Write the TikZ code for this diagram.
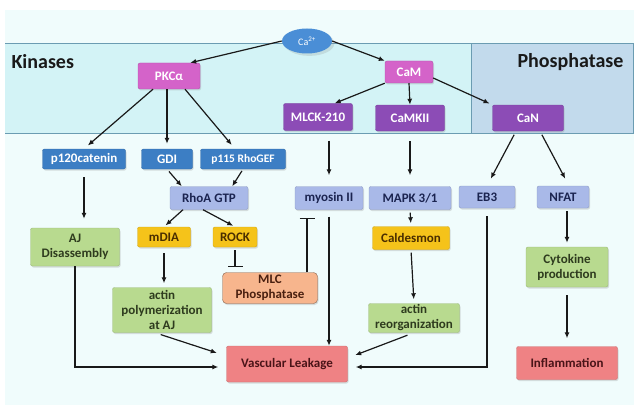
\documentclass[tikz,border=0pt]{standalone}
\usepackage{fontspec}
\setmainfont{Carlito}
\usetikzlibrary{shapes.geometric, arrows, arrows.meta, shadows}
\definecolor{bgcyan}{HTML}{F0FCFC}
\definecolor{bandcyan}{HTML}{D3F3F6}
\definecolor{phosbox}{HTML}{C2DAEC}
\definecolor{bandline}{HTML}{6B9CB2}
\definecolor{caBlue}{HTML}{4A8ED6}
\definecolor{pkcPink}{HTML}{D463C9}
\definecolor{kinPurple}{HTML}{8C4CB6}
\definecolor{effBlue}{HTML}{3C7EC4}
\definecolor{paleBlue}{HTML}{A9B9E8}
\definecolor{leafGreen}{HTML}{B8DA8F}
\definecolor{goldY}{HTML}{F5C31A}
\definecolor{salmon}{HTML}{F7B58D}
\definecolor{leakRed}{HTML}{EF8284}
\definecolor{navyText}{HTML}{1B2450}
\definecolor{greenText}{HTML}{2E3B1E}
\definecolor{goldText}{HTML}{4A2E00}
\definecolor{brownText}{HTML}{4A2010}
\definecolor{redText}{HTML}{4A1418}
\tikzset{
  block/.style={
    rectangle,
    rounded corners=2pt,
    draw=#1!85!black,
    fill=#1,
    line width=0.4pt,
    align=center,
    inner sep=1pt,
    minimum height=21pt,
    font=\bfseries\fontsize{13}{15}\selectfont,
    drop shadow={opacity=0.25, shadow xshift=1pt, shadow yshift=-1.5pt}
  },
  pinkbox/.style={block=pkcPink, text=white},
  purplebox/.style={block=kinPurple, text=white},
  bluebox/.style={block=effBlue, text=white},
  palebox/.style={block=paleBlue, text=navyText},
  greenbox/.style={block=leafGreen, text=greenText},
  goldbox/.style={block=goldY, text=goldText},
  salmonbox/.style={block=salmon, text=brownText, draw=salmon!55!black, rounded corners=4pt},
  redbox/.style={block=leakRed, text=redText},
  region/.style={font=\bfseries\fontsize{20}{24}\selectfont, text=black!90}
}
\tikzstyle{arrow} = [->, > = {Latex[length=6pt, width=5pt]}, line width=1.2pt, black!90]
\tikzstyle{inhibit} = [-{Bar[width=15pt]}, line width=1.2pt, black!90]
\def\ion{Ca\textsuperscript{2+}}

\begin{document}
\begin{tikzpicture}[x=1pt, y=-1pt]
    \useasboundingbox (0,0) rectangle (644,417);
    % background and the two bands
    \fill[bgcyan] (5,10) rectangle (634,405);
    \fill[bandcyan] (5,43) rectangle (471,133);
    \draw[bandline] (5,43) -- (471,43);
    \draw[bandline] (5,133) -- (471,133);
    \filldraw[fill=phosbox, draw=bandline] (471,43) rectangle (633,133);
    \node[region, anchor=west] (kin) at (8,62) {Kinases};
    \node[region, anchor=east] (phos) at (627,62) {Phosphatase};

    \node[ellipse, fill=caBlue, text=white, minimum width=50pt, minimum height=25pt, inner sep=0pt,
      font=\fontsize{10}{11}\selectfont, drop shadow={opacity=0.2}] (ca) at (307,41) {\ion};
    \node[pinkbox, minimum width=62pt, minimum height=26pt] (pkc) at (169,76) {PKCα};
    \node[pinkbox, minimum width=48pt, minimum height=22pt] (cam) at (409,72) {CaM};
    \node[purplebox, minimum width=69pt, minimum height=27pt] (mlck) at (318,117) {MLCK-210};
    \node[purplebox, minimum width=69pt, minimum height=26pt] (camk) at (410,118) {CaMKII};
    \node[purplebox, minimum width=71pt, minimum height=26pt] (can) at (528,118) {CaN};

    \node[bluebox, minimum width=83pt, minimum height=20pt] (p120) at (84,159) {p120catenin};
    \node[bluebox, minimum width=51pt, minimum height=20pt] (gdi) at (167,159) {GDI};
    \node[bluebox, minimum width=85pt, minimum height=20pt, font=\bfseries\fontsize{11.5}{13}\selectfont] (p115) at (243,159) {p115 RhoGEF};

    \node[palebox, minimum width=78pt, minimum height=23pt] (rhoa) at (209,198) {RhoA GTP};
    \node[palebox, minimum width=68pt, minimum height=23pt] (myosin) at (329,198) {myosin II};
    \node[palebox, minimum width=82pt, minimum height=23pt] (mapk) at (410,198) {MAPK 3/1};
    \node[palebox, minimum width=56pt, minimum height=22pt] (eb3) at (487,197) {EB3};
    \node[palebox, minimum width=52pt, minimum height=22pt] (nfat) at (563,197) {NFAT};

    \node[greenbox, minimum width=89pt, minimum height=38pt] (aj) at (75,247) {AJ\\Disassembly};
    \node[goldbox, minimum width=53pt, minimum height=20pt] (mdia) at (164,237) {mDIA};
    \node[goldbox, minimum width=44pt, minimum height=20pt] (rock) at (235,237) {ROCK};
    \node[goldbox, minimum width=77pt, minimum height=23pt] (cald) at (411,238) {Caldesmon};
    \node[salmonbox, minimum width=95pt, minimum height=31pt] (mlc) at (270,288) {MLC\\Phosphatase};
    \node[greenbox, minimum width=82pt, minimum height=40pt] (cyto) at (567,267) {Cytokine\\production};
    \node[greenbox, minimum width=99pt, minimum height=45pt] (actpol) at (162,310) {actin\\polymerization\\at AJ};
    \node[greenbox, minimum width=91pt, minimum height=29pt] (actreo) at (414,318) {actin\\reorganization};
    \node[redbox, minimum width=121pt, minimum height=36pt] (vasc) at (287,364) {Vascular Leakage};
    \node[redbox, minimum width=101pt, minimum height=33pt] (infl) at (567,363) {Inflammation};

    % calcium signalling
    \draw[arrow] (ca.west) to ([xshift=-10pt]pkc.north east);
    \draw[arrow] (ca.east) to (cam.north west);
    \draw[arrow, shorten >=5pt] ([xshift=-16pt]pkc.south) to (p120.north);
    \draw[arrow, shorten >=5pt] (pkc.south -| gdi.north) to (gdi.north);
    \draw[arrow, shorten >=5pt] ([xshift=16pt]pkc.south) to ([xshift=-8pt]p115.north);
    \draw[arrow] (cam.south west) to ([xshift=-18pt]mlck.north east);
    \draw[arrow] (cam.south) to (camk.north);
    \draw[arrow, shorten >=3pt] ([yshift=-6pt]cam.east) to (can.north west);
    \draw[arrow, shorten <=10pt, shorten >=11pt] (myosin.north |- mlck.south) to (myosin.north);
    \draw[arrow, shorten <=10pt, shorten >=11pt] (camk.south) to (mapk.north);
    \draw[arrow, shorten <=4pt, shorten >=8pt] ([xshift=-12pt]can.south) to (eb3.north);
    \draw[arrow, shorten <=4pt, shorten >=8pt] ([xshift=12pt]can.south) to ([xshift=6pt]nfat.north);

    % Rho pathway
    \draw[arrow, shorten <=8pt, shorten >=9pt] (p120.south) to (p120.south |- aj.north);
    \draw[arrow, shorten <=3pt] (gdi.south) to ([xshift=12pt]rhoa.north west);
    \draw[arrow, shorten <=2pt] (p115.south) to ([xshift=-16pt]rhoa.north east);
    \draw[arrow, shorten >=2pt] ([xshift=-26pt]rhoa.south) to (mdia.north);
    \draw[arrow, shorten >=2pt] ([xshift=-6pt]rhoa.south) to (rock.north);
    \draw[inhibit, shorten <=3pt, shorten >=5pt] (rock.south) to (rock.south |- mlc.north);
    \draw[inhibit, shorten >=8pt] ([xshift=37pt]mlc.north) to ([xshift=37pt]mlc.north |- myosin.south);
    \draw[arrow, shorten <=6pt, shorten >=4pt] (mdia.south) to (mdia.south |- actpol.north);
    \draw[arrow, shorten <=3pt, shorten >=3pt] (mapk.south) to (cald.north);
    \draw[arrow, shorten <=3pt, shorten >=4pt] (cald.south) to (actreo.north);
    \draw[arrow, shorten <=3pt, shorten >=4pt] (cyto.north |- nfat.south) to (cyto.north);
    \draw[arrow, shorten <=8pt, shorten >=8pt] (cyto.south) to (infl.north);

    % towards leakage
    \draw[arrow, shorten <=7pt] (myosin.south) to (myosin.south |- vasc.north);
    \draw[arrow, shorten >=8pt] (aj.south) |- ([yshift=-3pt]vasc.west);
    \draw[arrow, shorten <=6pt, shorten >=10pt] ([xshift=-7pt]actpol.south) to ([yshift=8pt]vasc.west);
    \draw[arrow, shorten <=7pt, shorten >=8pt] (actreo.south) to ([yshift=6pt]vasc.east);
    \draw[arrow, shorten <=8pt, shorten >=8pt] (eb3.south) |- ([yshift=-3pt]vasc.east);
  \end{tikzpicture}
\end{document}
